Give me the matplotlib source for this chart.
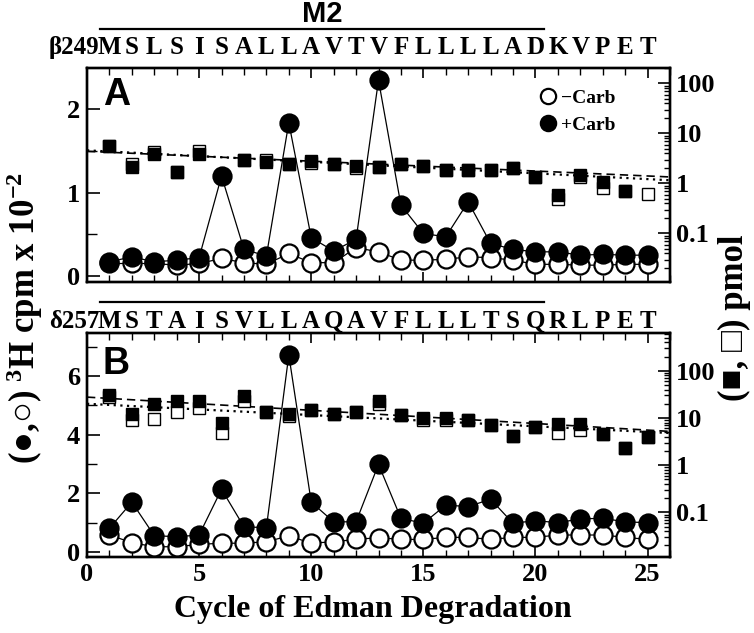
import numpy as np
import matplotlib
matplotlib.use("Agg")
import matplotlib.pyplot as plt
from matplotlib.lines import Line2D
from matplotlib.ticker import MultipleLocator, FixedLocator, FixedFormatter, LogLocator, NullFormatter
import matplotlib.transforms as mtransforms

plt.rcParams['font.family'] = ['Liberation Serif', 'DejaVu Serif']
plt.rcParams['font.weight'] = 'bold'
plt.rcParams['mathtext.fontset'] = 'custom'
plt.rcParams['mathtext.rm'] = 'Liberation Serif:bold'
plt.rcParams['mathtext.it'] = 'Liberation Serif:bold'
plt.rcParams['mathtext.bf'] = 'Liberation Serif:bold'

nan = np.nan
cycles = np.arange(1, 26)

seq_a = list("MSLSISALLAVTVFLLLLADKVPET")
seq_b = list("MSTAISVLLAQAVFLLLTSQRLPET")
start_a = "β249"
start_b = "δ257"

# Panel A: 3H cpm x 10^-2
a_minus_cpm = [0.15, 0.15, 0.15, 0.13, 0.15, 0.21, 0.16, 0.14, 0.27, 0.16, 0.16, 0.34, 0.29,
               0.19, 0.19, 0.20, 0.23, 0.22, 0.19, 0.14, 0.14, 0.13, 0.13, 0.14, 0.14]
a_plus_cpm = [0.17, 0.23, 0.17, 0.19, 0.22, 1.20, 0.32, 0.24, 1.84, 0.46, 0.30, 0.44, 2.35,
              0.85, 0.51, 0.47, 0.89, 0.39, 0.32, 0.29, 0.29, 0.25, 0.26, 0.25, 0.25]
# Panel A: pmol
a_plus_pmol = [5.5, 2.14, 3.8, 1.7, 3.8, nan, 2.9, 2.65, 2.4, 2.8, 2.4, 2.2, 2.15,
               2.5, 2.2, 1.9, 1.9, 1.9, 2.0, 1.35, 0.58, 1.46, 1.08, 0.70, nan]
a_minus_pmol = [5.5, 2.4, 4.3, 1.7, 4.4, nan, 2.9, 2.9, 2.4, 2.55, 2.4, 2.0, 2.15,
                2.5, 2.2, 1.9, 1.9, 1.9, 2.0, 1.35, 0.48, 1.32, 0.80, 0.70, 0.63]

# Panel B
b_minus_cpm = [0.58, 0.32, 0.18, 0.18, 0.26, 0.30, 0.30, 0.35, 0.55, 0.30, 0.35, 0.43, 0.49,
               0.43, 0.43, 0.50, 0.50, 0.43, 0.50, 0.50, 0.58, 0.58, 0.58, 0.50, 0.43]
b_plus_cpm = [0.81, 1.70, 0.56, 0.52, 0.58, 2.14, 0.86, 0.83, 6.72, 1.70, 1.03, 1.03, 2.99,
              1.15, 0.98, 1.60, 1.55, 1.80, 0.98, 1.07, 1.00, 1.13, 1.15, 1.03, 1.00]
b_plus_pmol = [31, 12.1, 20, 22.4, 23, 7.8, 28.6, 13.4, 12.1, 15, 12.1, 13.4, 22.4,
               11.7, 10, 10, 9.2, 7.2, 4.1, 6.3, 7.6, 7.6, 4.6, 2.3, 4.0]
b_minus_pmol = [27.7, 8.9, 9.5, 13.1, 16.3, 4.8, 22.4, 13.4, 11, 15, 12.1, 13.4, 20,
                11.7, 9, 9, 9.2, 7.2, 4.1, 6.3, 4.8, 5.5, 4.6, 2.3, 4.0]

# fitted decay lines (pmol at cycle 0 and at cycle 26)
fit_x = [0, 26]
a_fit_plus = [4.4, 1.35]
a_fit_minus = [4.6, 1.16]
b_fit_plus = [27.7, 5.2]
b_fit_minus = [20.0, 4.8]

W, H = 754, 633
fig = plt.figure(figsize=(W / 100, H / 100), dpi=100)
SANS = ['Liberation Sans', 'DejaVu Sans']
TICK_FS = 19


def rect(l, t, r, b):
    return [l / W, 1 - b / H, (r - l) / W, (b - t) / H]


def make_panel(box, cpm_lim, cpm_major, cpm_minor, log_lim, show_x):
    axl = fig.add_axes(rect(*box))
    axl.set_yscale('log')
    axc = axl.twinx()
    axc.yaxis.tick_left()
    axl.yaxis.tick_right()
    axl.set_xlim(0, 26)
    axl.set_ylim(*log_lim)
    axc.set_ylim(*cpm_lim)
    for a in (axl, axc):
        for s in a.spines.values():
            s.set_linewidth(1.7)
    axl.xaxis.set_major_locator(MultipleLocator(5))
    axl.xaxis.set_minor_locator(MultipleLocator(1))
    axl.tick_params(axis='x', which='major', direction='in', length=7, width=1.2,
                    top=True, bottom=True, labelbottom=show_x, labelsize=TICK_FS, pad=4)
    axl.tick_params(axis='x', which='minor', direction='in', length=5, width=1.0,
                    top=True, bottom=True)
    axl.yaxis.set_major_locator(FixedLocator([0.1, 1, 10, 100]))
    axl.yaxis.set_major_formatter(FixedFormatter(["0.1", "1", "10", "100"]))
    axl.yaxis.set_minor_locator(LogLocator(base=10, subs=np.arange(2, 10)))
    axl.yaxis.set_minor_formatter(NullFormatter())
    axl.tick_params(axis='y', which='major', direction='in', length=9, width=1.2,
                    left=False, right=True, labelleft=False, labelright=True,
                    labelsize=TICK_FS, pad=4)
    axl.tick_params(axis='y', which='minor', direction='in', length=4, width=1.0,
                    left=False, right=True)
    axc.yaxis.set_major_locator(FixedLocator(cpm_major))
    axc.yaxis.set_minor_locator(FixedLocator(cpm_minor))
    axc.tick_params(axis='y', which='major', direction='in', length=9, width=1.2,
                    left=True, right=False, labelleft=True, labelright=False,
                    labelsize=TICK_FS, pad=5)
    axc.tick_params(axis='y', which='minor', direction='in', length=7, width=1.0,
                    left=True, right=False)
    for lab in axl.get_xticklabels() + axl.get_yticklabels() + axc.get_yticklabels():
        lab.set_fontweight('bold')
    return axl, axc


def draw_data(axl, axc, minus_cpm, plus_cpm, minus_pmol, plus_pmol, fit_plus, fit_minus):
    axl.plot(fit_x, fit_plus, color='black', lw=1.2, ls=(0, (5, 3)), zorder=1)
    axl.plot(fit_x, fit_minus, color='black', lw=1.6, ls=(0, (1, 2)), zorder=1)
    axl.plot(cycles, minus_pmol, ls='none', marker='s', ms=8.5, mfc='white', mec='black',
             mew=1.0, zorder=2)
    axl.plot(cycles, plus_pmol, ls='none', marker='s', ms=8.5, mfc='black', mec='black',
             mew=1.0, zorder=3)
    axc.plot(cycles, minus_cpm, color='black', lw=0.9, marker='o', ms=13, mfc='white',
             mec='black', mew=1.6, zorder=2)
    axc.plot(cycles, plus_cpm, color='black', lw=0.9, marker='o', ms=13, mfc='black',
             mec='black', mew=1.6, zorder=3)


def draw_sequence(ax, seq, start, y_axes, line_y):
    tr = mtransforms.blended_transform_factory(ax.transData, ax.transAxes)
    for c, letter in zip(cycles, seq):
        ax.text(c, y_axes, letter, transform=tr, ha='center', va='baseline',
                fontsize=18, fontweight='bold', clip_on=False)
    ax.text(0.55, y_axes, start, transform=tr, ha='right', va='baseline',
            fontsize=18, fontweight='bold', clip_on=False)
    ax.plot([0.6, 20.4], [line_y, line_y], transform=tr, color='black', lw=1.6,
            clip_on=False)


# Panel A
axA_l, axA_c = make_panel((87, 68, 670, 282), (-0.072, 2.496), [0, 1, 2], [0.5, 1.5],
                          (0.0107, 204), False)
draw_data(axA_l, axA_c, a_minus_cpm, a_plus_cpm, a_minus_pmol, a_plus_pmol,
          a_fit_plus, a_fit_minus)
draw_sequence(axA_c, seq_a, start_a, (282 - 54) / 214, (282 - 29) / 214)
trA = mtransforms.blended_transform_factory(axA_c.transData, axA_c.transAxes)
axA_c.text(10.5, (282 - 14) / 214, "M2", transform=trA, ha='center', va='center',
           fontsize=21, fontweight='bold', family=SANS)
axA_c.text(0.027, 0.875, "A", transform=axA_c.transAxes, ha='left', va='center',
           fontsize=27, fontweight='bold', family=SANS)
handles = [Line2D([], [], ls='none', marker='o', ms=11, mfc='white', mec='black', mew=1.6),
           Line2D([], [], ls='none', marker='o', ms=11, mfc='black', mec='black', mew=1.6)]
leg = axA_c.legend(handles, ["\u2212Carb", "+Carb"], loc='upper right',
                   bbox_to_anchor=(0.93, 0.965), frameon=False, handlelength=0.8,
                   handletextpad=0.3, labelspacing=0.5, borderpad=0.2,
                   prop={'family': ['Liberation Serif', 'DejaVu Serif'], 'weight': 'bold',
                         'size': 14})

# Panel B
axB_l, axB_c = make_panel((87, 333, 670, 557), (-0.17, 7.47), [0, 2, 4, 6], [1, 3, 5, 7],
                          (0.0114, 631), True)
draw_data(axB_l, axB_c, b_minus_cpm, b_plus_cpm, b_minus_pmol, b_plus_pmol,
          b_fit_plus, b_fit_minus)
draw_sequence(axB_c, seq_b, start_b, (557 - 328) / 224, (557 - 302) / 224)
axB_c.text(0.027, 0.86, "B", transform=axB_c.transAxes, ha='left', va='center',
           fontsize=27, fontweight='bold', family=SANS)

fig.text(373 / W, 1 - 610 / H, "Cycle of Edman Degradation",
         ha='center', va='center', fontsize=23, fontweight='bold')
fig.text(25 / W, 1 - 318 / H, "(\u25CF,\u25CB) $^{3}$H cpm x 10$^{-2}$", rotation=90,
         ha='center', va='center', fontsize=25, fontweight='bold')
fig.text(734 / W, 1 - 318 / H, "(\u25A0, \u25A1) pmol", rotation=90,
         ha='center', va='center', fontsize=25, fontweight='bold')

fig.savefig("out.png", dpi=100)
